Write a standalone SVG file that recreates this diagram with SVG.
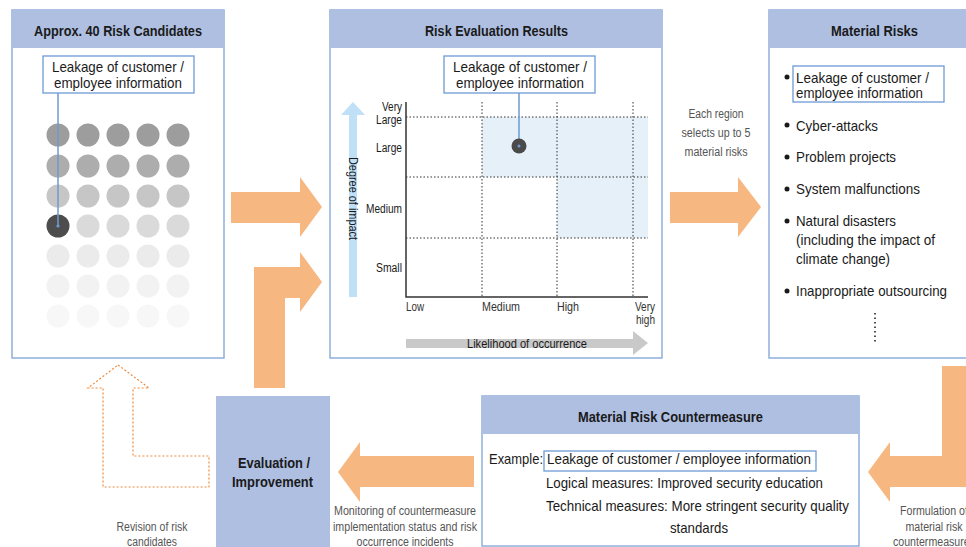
<svg xmlns="http://www.w3.org/2000/svg" width="966" height="547" viewBox="0 0 966 547">
<style>
text{font-family:"Liberation Sans",Arial,sans-serif;fill:#1a1a1a}
.title{font-size:15px;font-weight:bold;text-anchor:middle}
.body{font-size:15px}
.mid{text-anchor:middle}
.small{font-size:12.5px;fill:#555;text-anchor:middle}
.ax{font-size:12.5px;fill:#333}
.panel{fill:#fff;stroke:#8eaedb;stroke-width:1.5}
.head{fill:#aebfe2}
.lbl{fill:#fff;stroke:#6d9bd5;stroke-width:1.3}
.arrow{fill:#f6b880}
.dot{stroke:#333;stroke-width:1;stroke-dasharray:1.5 2;fill:none}
.link{stroke:#6d9bd5;stroke-width:1.5;fill:none}
</style>

<g id="connectors">
  <polygon class="arrow" points="231,192 300,192 300,177 322,207 300,237 300,223 231,223"/>
  <polygon class="arrow" points="254,388 254,267 300,267 300,252 322,282 300,312 300,298 285,298 285,388"/>
  <polygon class="arrow" points="670,192 738,192 738,177 761,207 738,237 738,223 670,223"/>
  <polygon class="arrow" points="474,456 360,456 360,442 338,472 360,502 360,487 474,487"/>
  <polygon class="arrow" points="942,366 980,366 980,487 890,487 890,502 868,472 890,442 890,456 942,456"/>
  <polygon points="118,365 149,388 133,388 133,456 209,456 209,487 103,487 103,388 88,388" fill="none" stroke="#ee8a3c" stroke-width="1.2" stroke-dasharray="2 2"/>
  <text class="small" x="716" y="118" textLength="55" lengthAdjust="spacingAndGlyphs">Each region</text>
  <text class="small" x="716" y="137" textLength="69" lengthAdjust="spacingAndGlyphs">selects up to 5</text>
  <text class="small" x="716" y="156" textLength="63" lengthAdjust="spacingAndGlyphs">material risks</text>
  <text class="small" x="152" y="530.5" textLength="71" lengthAdjust="spacingAndGlyphs">Revision of risk</text>
  <text class="small" x="152" y="545.5" textLength="50" lengthAdjust="spacingAndGlyphs">candidates</text>
  <text class="small" x="405" y="514.5" textLength="142" lengthAdjust="spacingAndGlyphs">Monitoring of countermeasure</text>
  <text class="small" x="405" y="530.5" textLength="144" lengthAdjust="spacingAndGlyphs">implementation status and risk</text>
  <text class="small" x="405" y="545.5" textLength="97" lengthAdjust="spacingAndGlyphs">occurrence incidents</text>
  <text class="small" x="934" y="514.5" textLength="68" lengthAdjust="spacingAndGlyphs">Formulation of</text>
  <text class="small" x="934" y="530.5" textLength="57" lengthAdjust="spacingAndGlyphs">material risk</text>
  <text class="small" x="934" y="545.5" textLength="82" lengthAdjust="spacingAndGlyphs">countermeasures</text>
</g>

<g id="risk-candidates">
  <rect class="panel" x="12" y="10" width="212" height="348"/>
  <rect class="head" x="12" y="10" width="212" height="38"/>
  <text class="title" x="118" y="35.5" textLength="168" lengthAdjust="spacingAndGlyphs">Approx. 40 Risk Candidates</text>
  <g>
    <circle cx="58" cy="135" r="11.5" fill="#9d9d9d"/><circle cx="88" cy="135" r="11.5" fill="#9d9d9d"/><circle cx="118" cy="135" r="11.5" fill="#9d9d9d"/><circle cx="148" cy="135" r="11.5" fill="#9d9d9d"/><circle cx="178" cy="135" r="11.5" fill="#9d9d9d"/>
    <circle cx="58" cy="166" r="11.5" fill="#adadad"/><circle cx="88" cy="166" r="11.5" fill="#adadad"/><circle cx="118" cy="166" r="11.5" fill="#adadad"/><circle cx="148" cy="166" r="11.5" fill="#adadad"/><circle cx="178" cy="166" r="11.5" fill="#adadad"/>
    <circle cx="58" cy="196" r="11.5" fill="#c6c6c6"/><circle cx="88" cy="196" r="11.5" fill="#c6c6c6"/><circle cx="118" cy="196" r="11.5" fill="#c6c6c6"/><circle cx="148" cy="196" r="11.5" fill="#c6c6c6"/><circle cx="178" cy="196" r="11.5" fill="#c6c6c6"/>
    <circle cx="58" cy="226" r="11.5" fill="#4d4d4d"/><circle cx="88" cy="226" r="11.5" fill="#dadada"/><circle cx="118" cy="226" r="11.5" fill="#dadada"/><circle cx="148" cy="226" r="11.5" fill="#dadada"/><circle cx="178" cy="226" r="11.5" fill="#dadada"/>
    <circle cx="58" cy="256" r="11.5" fill="#ebebeb"/><circle cx="88" cy="256" r="11.5" fill="#ebebeb"/><circle cx="118" cy="256" r="11.5" fill="#ebebeb"/><circle cx="148" cy="256" r="11.5" fill="#ebebeb"/><circle cx="178" cy="256" r="11.5" fill="#ebebeb"/>
    <circle cx="58" cy="286" r="11.5" fill="#f2f2f2"/><circle cx="88" cy="286" r="11.5" fill="#f2f2f2"/><circle cx="118" cy="286" r="11.5" fill="#f2f2f2"/><circle cx="148" cy="286" r="11.5" fill="#f2f2f2"/><circle cx="178" cy="286" r="11.5" fill="#f2f2f2"/>
    <circle cx="58" cy="316" r="11.5" fill="#f7f7f7"/><circle cx="88" cy="316" r="11.5" fill="#f7f7f7"/><circle cx="118" cy="316" r="11.5" fill="#f7f7f7"/><circle cx="148" cy="316" r="11.5" fill="#f7f7f7"/><circle cx="178" cy="316" r="11.5" fill="#f7f7f7"/>
  </g>
  <line class="link" x1="58" y1="93" x2="58" y2="226"/>
  <circle cx="58" cy="226" r="1.6" fill="#6d9bd5"/>
  <rect class="lbl" x="43" y="56" width="151" height="37"/>
  <text class="body mid" x="118" y="72" textLength="132" lengthAdjust="spacingAndGlyphs">Leakage of customer /</text>
  <text class="body mid" x="118" y="88" textLength="128" lengthAdjust="spacingAndGlyphs">employee information</text>
</g>

<g id="risk-evaluation">
  <rect class="panel" x="330" y="10" width="332" height="348"/>
  <rect class="head" x="330" y="10" width="332" height="38"/>
  <text class="title" x="496.5" y="35.5" textLength="143" lengthAdjust="spacingAndGlyphs">Risk Evaluation Results</text>
  <rect x="482" y="117" width="166" height="60" fill="#e6f0f8"/>
  <rect x="557" y="177" width="91" height="61" fill="#e6f0f8"/>
  <path class="dot" d="M482,102V297M557,102V297M633,102V297M406,117H648M406,177H648M406,238H648"/>
  <path d="M406,102V297H648" fill="none" stroke="#333" stroke-width="1.5"/>
  <polygon points="349,297 349,115 341,115 353,102 365,115 357,115 357,297" fill="#bfe0f6"/>
  <text class="ax" x="349" y="198.5" transform="rotate(90 349 198.5)" text-anchor="middle" textLength="83" lengthAdjust="spacingAndGlyphs" style="fill:#1a1a1a;font-size:13px">Degree of impact</text>
  <polygon points="406,339 633,339 633,331 648,343 633,355 633,348 406,348" fill="#c9c9c9"/>
  <text class="ax" x="527" y="348" text-anchor="middle" textLength="120" lengthAdjust="spacingAndGlyphs" style="fill:#1a1a1a;font-size:13px">Likelihood of occurrence</text>
  <g class="ax" text-anchor="end">
    <text x="402" y="111" textLength="20" lengthAdjust="spacingAndGlyphs">Very</text>
    <text x="402" y="123.5" textLength="26" lengthAdjust="spacingAndGlyphs">Large</text>
    <text x="402" y="151.5" textLength="26" lengthAdjust="spacingAndGlyphs">Large</text>
    <text x="402" y="212.5" textLength="36" lengthAdjust="spacingAndGlyphs">Medium</text>
    <text x="402" y="271.5" textLength="26" lengthAdjust="spacingAndGlyphs">Small</text>
  </g>
  <text class="ax" x="406" y="310.5" textLength="18" lengthAdjust="spacingAndGlyphs">Low</text>
  <text class="ax" x="482" y="310.5" textLength="38" lengthAdjust="spacingAndGlyphs">Medium</text>
  <text class="ax" x="557" y="310.5" textLength="22" lengthAdjust="spacingAndGlyphs">High</text>
  <text class="ax" x="635" y="310.5" textLength="20" lengthAdjust="spacingAndGlyphs">Very</text>
  <text class="ax" x="636" y="323.5" textLength="19" lengthAdjust="spacingAndGlyphs">high</text>
  <line class="link" x1="519" y1="93" x2="519" y2="146"/>
  <circle cx="519" cy="146" r="7.5" fill="#4a4a4a"/>
  <circle cx="519" cy="146" r="1.5" fill="#6d9bd5"/>
  <rect class="lbl" x="444" y="56" width="151" height="37"/>
  <text class="body mid" x="520" y="72" textLength="134" lengthAdjust="spacingAndGlyphs">Leakage of customer /</text>
  <text class="body mid" x="520" y="88" textLength="128" lengthAdjust="spacingAndGlyphs">employee information</text>
</g>

<g id="material-risks">
  <rect class="panel" x="769" y="10" width="210" height="348"/>
  <rect class="head" x="769" y="10" width="210" height="38"/>
  <text class="title" x="874.5" y="35.5" textLength="87" lengthAdjust="spacingAndGlyphs">Material Risks</text>
  <rect class="lbl" x="793" y="66" width="151" height="36"/>
  <g class="body">
    <text x="796" y="82.5" textLength="133" lengthAdjust="spacingAndGlyphs">Leakage of customer /</text>
    <text x="796" y="98" textLength="127" lengthAdjust="spacingAndGlyphs">employee information</text>
    <text x="796" y="130.5" textLength="82" lengthAdjust="spacingAndGlyphs">Cyber-attacks</text>
    <text x="796" y="162" textLength="100" lengthAdjust="spacingAndGlyphs">Problem projects</text>
    <text x="796" y="194" textLength="124" lengthAdjust="spacingAndGlyphs">System malfunctions</text>
    <text x="796" y="226" textLength="100" lengthAdjust="spacingAndGlyphs">Natural disasters</text>
    <text x="796" y="245" textLength="139" lengthAdjust="spacingAndGlyphs">(including the impact of</text>
    <text x="796" y="264" textLength="94" lengthAdjust="spacingAndGlyphs">climate change)</text>
    <text x="796" y="296" textLength="151" lengthAdjust="spacingAndGlyphs">Inappropriate outsourcing</text>
  </g>
  <g fill="#1a1a1a">
    <circle cx="787" cy="77" r="2.5"/><circle cx="787" cy="125" r="2.5"/><circle cx="787" cy="157" r="2.5"/><circle cx="787" cy="189" r="2.5"/><circle cx="787" cy="221" r="2.5"/><circle cx="787" cy="291" r="2.5"/>
  </g>
  <line x1="875" y1="313" x2="875" y2="343" stroke="#222" stroke-width="1.6" stroke-dasharray="1.5 3"/>
</g>

<g id="countermeasure">
  <rect class="panel" x="482" y="396" width="377" height="150"/>
  <rect class="head" x="482" y="396" width="377" height="38"/>
  <text class="title" x="670.5" y="421.5" textLength="185" lengthAdjust="spacingAndGlyphs">Material Risk Countermeasure</text>
  <rect class="lbl" x="544" y="451" width="272" height="20"/>
  <g class="body">
    <text x="489" y="464" textLength="54" lengthAdjust="spacingAndGlyphs">Example:</text>
    <text x="547" y="464" textLength="264" lengthAdjust="spacingAndGlyphs">Leakage of customer / employee information</text>
    <text x="546" y="487.5" textLength="277" lengthAdjust="spacingAndGlyphs">Logical measures: Improved security education</text>
    <text x="546" y="510.5" textLength="303" lengthAdjust="spacingAndGlyphs">Technical measures: More stringent security quality</text>
    <text x="670" y="532.5" textLength="58" lengthAdjust="spacingAndGlyphs">standards</text>
  </g>
</g>

<g id="evaluation">
  <rect x="216" y="396" width="114" height="152" fill="#aebfe2"/>
  <text class="title" x="274" y="467.5" textLength="72" lengthAdjust="spacingAndGlyphs">Evaluation /</text>
  <text class="title" x="272.5" y="487" textLength="81" lengthAdjust="spacingAndGlyphs">Improvement</text>
</g>
</svg>
